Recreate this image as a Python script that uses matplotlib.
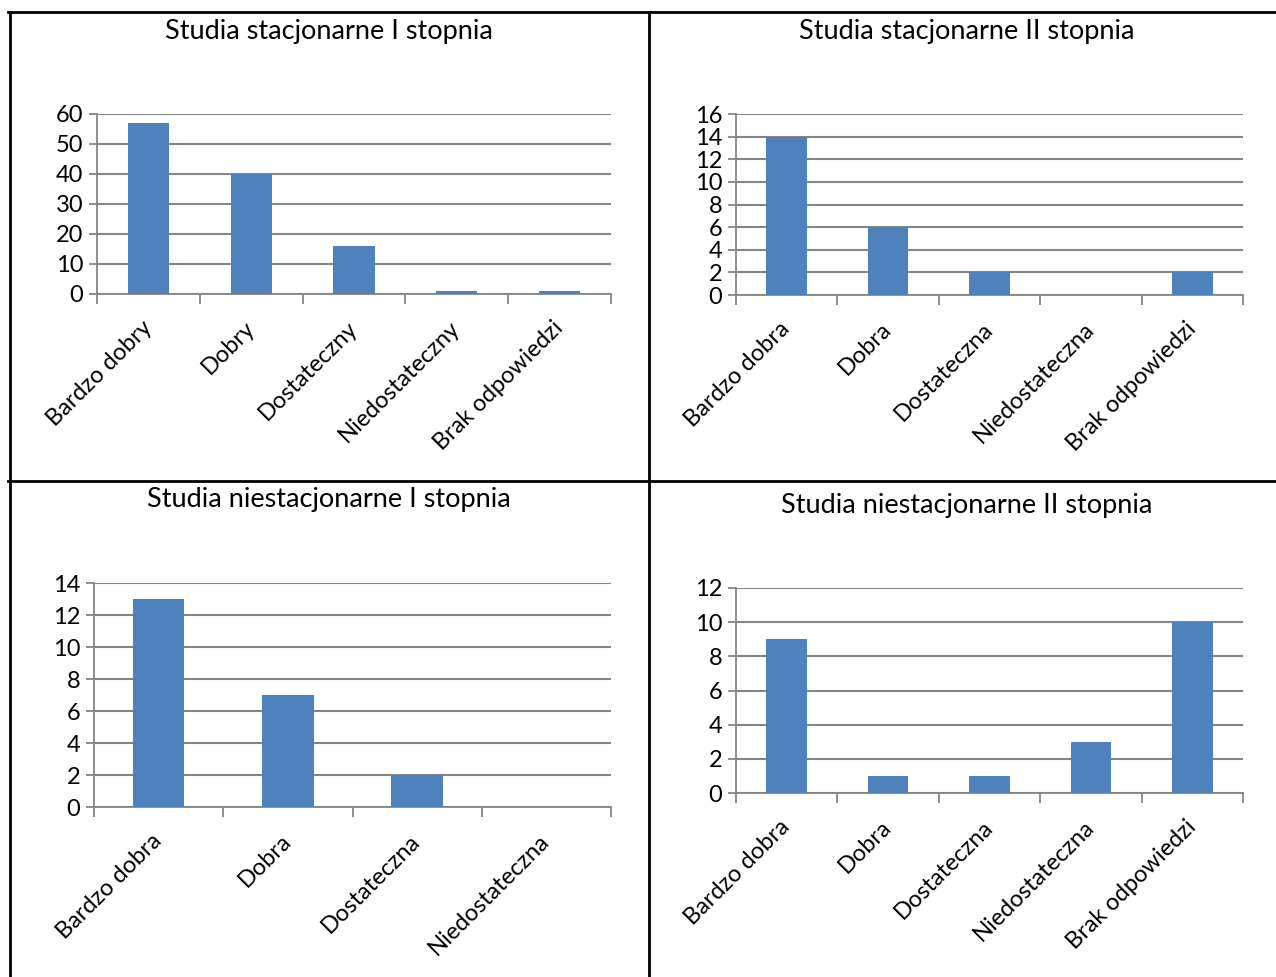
import matplotlib.pyplot as plt
from matplotlib.lines import Line2D
import numpy as np

plt.rcParams['font.family'] = ['Lato', 'DejaVu Sans']

W, H = 1276, 977

# dane
kat_1 = ["Bardzo dobry", "Dobry", "Dostateczny", "Niedostateczny", "Brak odpowiedzi"]
val_1 = [57, 40, 16, 1, 1]
kat_2 = ["Bardzo dobra", "Dobra", "Dostateczna", "Niedostateczna", "Brak odpowiedzi"]
val_2 = [14, 6, 2, 0, 2]
kat_3 = ["Bardzo dobra", "Dobra", "Dostateczna", "Niedostateczna"]
val_3 = [13, 7, 2, 0]
kat_4 = ["Bardzo dobra", "Dobra", "Dostateczna", "Niedostateczna", "Brak odpowiedzi"]
val_4 = [9, 1, 1, 3, 10]

tytuly = ["Studia stacjonarne I stopnia", "Studia stacjonarne II stopnia",
          "Studia niestacjonarne I stopnia", "Studia niestacjonarne II stopnia"]

KOLOR = "#4F81BD"
SZARY = "#868686"
FS = 17

fig = plt.figure(figsize=(W / 100, H / 100), dpi=100)


def px_axes(x0, x1, y0, y1):
    return fig.add_axes([x0 / W, 1 - y1 / H, (x1 - x0) / W, (y1 - y0) / H])


def wykres(ax, kat, val, ymax, krok):
    n = len(kat)
    x = np.arange(n)
    ax.bar(x, val, width=0.4, color=KOLOR, zorder=3)
    ax.set_xlim(-0.5, n - 0.5)
    ax.set_ylim(0, ymax)
    ax.set_yticks(np.arange(0, ymax + 0.1, krok))
    ax.yaxis.grid(True, color=SZARY, linewidth=1.5, zorder=0)
    ax.set_axisbelow(True)
    ax.set_xticks(x)
    ax.set_xticklabels(kat, rotation=45, ha="right", va="center",
                       rotation_mode="anchor", fontsize=FS)
    ax.set_xticks(np.arange(n + 1) - 0.5, minor=True)
    ax.tick_params(axis="x", which="major", length=0, pad=22)
    ax.tick_params(axis="x", which="minor", length=7, color=SZARY, width=1.3)
    ax.tick_params(axis="y", length=6, color=SZARY, width=1.3, labelsize=FS, pad=4)
    for s in ["top", "right"]:
        ax.spines[s].set_visible(False)
    for s in ["left", "bottom"]:
        ax.spines[s].set_color(SZARY)
        ax.spines[s].set_linewidth(1.3)


ax1 = px_axes(97, 611, 114, 294)
wykres(ax1, kat_1, val_1, 60, 10)
ax2 = px_axes(736, 1243, 114, 295)
wykres(ax2, kat_2, val_2, 16, 2)
ax3 = px_axes(94, 611, 583, 807)
wykres(ax3, kat_3, val_3, 14, 2)
ax4 = px_axes(736, 1243, 588, 793)
wykres(ax4, kat_4, val_4, 12, 2)

# tytuly
for (tx, ty), t in zip([(329, 32), (967, 31), (329, 500), (967, 505)], tytuly):
    fig.text(tx / W, 1 - ty / H, t, ha="center", va="center", fontsize=19.5)

# ramki tabeli
def linia(x0, y0, x1, y1):
    fig.add_artist(Line2D([x0 / W, x1 / W], [1 - y0 / H, 1 - y1 / H],
                          color="black", linewidth=2, transform=fig.transFigure))

linia(8, 12, W, 12)
linia(8, 481, W, 481)
linia(10, 12, 10, H)
linia(649, 12, 649, H)

fig.savefig("out.png", dpi=100)
